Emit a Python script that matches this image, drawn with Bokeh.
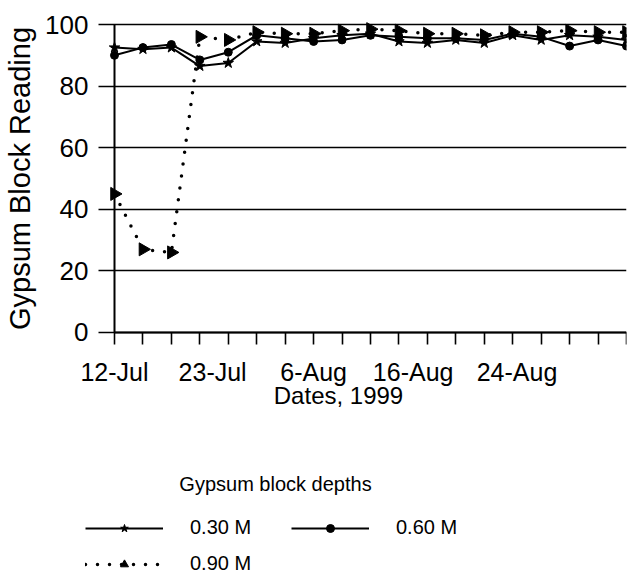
import math
from bokeh.plotting import figure
from bokeh.models import Range1d, FixedTicker, Legend, LegendItem, Label
from bokeh.embed import file_html
from bokeh.resources import INLINE

# ---- data ----
obs_index = list(range(19))  # observation dates, evenly spaced categories
date_label_pos = [0, 3.45, 7.0, 10.5, 14.15]
date_labels = ["12-Jul", "23-Jul", "6-Aug", "16-Aug", "24-Aug"]
y_ticks = [0, 20, 40, 60, 80, 100]

depth_030 = [92.5, 92.0, 92.5, 86.5, 87.5, 94.5, 94.0, 95.5, 96.5, 97.0,
             94.5, 94.0, 95.0, 94.0, 96.5, 95.0, 96.5, 96.0, 95.0]
depth_060 = [90.0, 92.5, 93.5, 88.5, 91.0, 96.5, 95.5, 94.5, 95.0, 96.5,
             96.0, 95.5, 95.5, 95.0, 97.0, 96.0, 93.0, 95.0, 93.0]
depth_090 = [45.0, 27.0, 26.0, 96.0, 95.0, 97.5, 97.0, 97.0, 98.0, 98.5,
             98.0, 97.0, 97.0, 96.5, 97.5, 97.5, 98.0, 97.5, 97.5]

series = [("0.30 M", depth_030, dict(line_width=2), dict(marker="star", size=11)),
          ("0.60 M", depth_060, dict(line_width=2), dict(marker="circle", size=8)),
          ("0.90 M", depth_090, dict(line_width=3.5, line_dash="0 12", line_cap="round"),
           dict(marker="triangle", size=13, angle=-math.pi / 2))]

FONT = "Liberation Sans"

# The frame covers the whole canvas; both axes are pinned at 0 so that the
# axis titles, legend title and legend can sit around the chart unclipped.
W, H = 630, 575
FRAME_TOP = 14
p = figure(width=W, height=H, output_backend="svg", toolbar_location=None,
           x_range=Range1d(-4.008, 18), y_range=Range1d(-78.9, 103.25),
           min_border_left=0, min_border_right=4, min_border_top=FRAME_TOP,
           min_border_bottom=0)
p.outline_line_color = None
p.background_fill_color = "white"
p.border_fill_color = "white"
p.xgrid.visible = False
p.ygrid.visible = False

# y axis (its long inward ticks form the horizontal grid lines)
ya = p.yaxis[0]
ya.fixed_location = 0
ya.bounds = (0, 100)
ya.ticker = FixedTicker(ticks=y_ticks)
ya.axis_line_width = 2
ya.major_tick_out = 16
ya.major_tick_in = 512
ya.major_tick_line_width = 1.6
ya.minor_tick_out = 0
ya.minor_tick_in = 0
ya.major_label_standoff = 10
ya.major_label_text_font = FONT
ya.major_label_text_font_size = "26px"
ya.major_label_text_color = "black"
ya.axis_label = "Gypsum Block Reading"
ya.axis_label_text_font = FONT
ya.axis_label_text_font_size = "29px"
ya.axis_label_text_font_style = "normal"
ya.axis_label_text_color = "black"
ya.axis_label_standoff = 6

# x axis
xa = p.xaxis[0]
xa.fixed_location = 0
xa.bounds = (0, 18)
xa.ticker = FixedTicker(ticks=date_label_pos, minor_ticks=obs_index)
xa.major_label_overrides = dict(zip(date_label_pos, date_labels))
xa.axis_line_width = 2
xa.major_tick_out = 0
xa.major_tick_in = 0
xa.minor_tick_out = 12
xa.minor_tick_in = 0
xa.minor_tick_line_width = 1.6
xa.minor_tick_line_color = "black"
xa.major_label_standoff = 14
xa.major_label_text_font = FONT
xa.major_label_text_font_size = "25px"
xa.major_label_text_color = "black"

items = []
for name, vals, lkw, mkw in series:
    lr = p.line(obs_index, vals, line_color="black", **lkw)
    sr = p.scatter(obs_index, vals, color="black", **mkw)
    items.append(LegendItem(label=name, renderers=[lr, sr]))

# x axis title
p.add_layout(Label(x=338, y=180, x_units="screen", y_units="screen",
                   text="Dates, 1999", text_align="center",
                   text_baseline="alphabetic", text_font=FONT,
                   text_font_size="24px", text_color="black"))

# legend title
p.add_layout(Label(x=275, y=92, x_units="screen", y_units="screen",
                   text="Gypsum block depths", text_align="center",
                   text_baseline="alphabetic", text_font=FONT,
                   text_font_size="20px", text_color="black"))

legend = Legend(items=items, orientation="horizontal", ncols=2,
                location=(85, 0),
                glyph_width=78, glyph_height=20, label_standoff=27,
                label_width=88, label_height=20, spacing=13,
                padding=0, margin=0, border_line_color=None,
                background_fill_alpha=0,
                label_text_font=FONT, label_text_font_size="20px",
                label_text_color="black")
p.add_layout(legend)

open("out.html", "w").write(file_html(p, INLINE))
